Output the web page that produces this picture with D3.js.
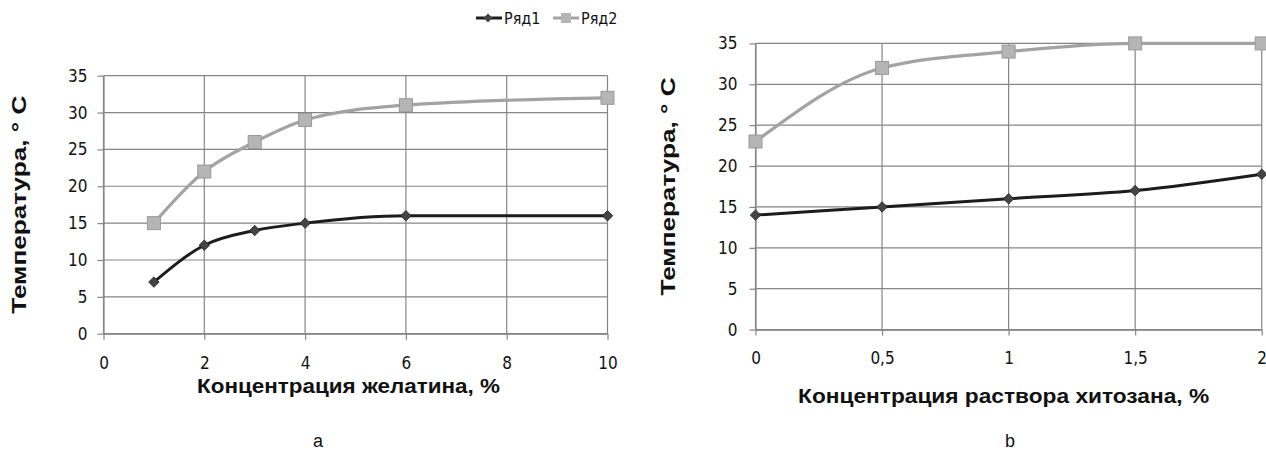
<!DOCTYPE html>
<html>
<head>
<meta charset="utf-8">
<script src="https://cdn.jsdelivr.net/npm/d3@7"></script>
<style>
  html, body { margin: 0; padding: 0; background: #fff; }
  svg { display: block; }
  .tick text { font-family: "DejaVu Sans Condensed", "DejaVu Sans", sans-serif; font-stretch: condensed; font-size: 17px; fill: #111; }
  .title { font-family: "Liberation Sans", Arial, sans-serif; font-weight: bold; font-size: 21px; fill: #111; }
  .panel { font-family: "Liberation Sans", Arial, sans-serif; font-size: 18px; fill: #111; }
  .legend text { font-family: "DejaVu Sans Condensed", "DejaVu Sans", sans-serif; font-stretch: condensed; font-size: 16px; fill: #111; }
</style>
</head>
<body>
<svg id="chart" width="1266" height="459"></svg>
<script>
"use strict";

// panel a: gelatin
var gelatinX = [1, 2, 3, 4, 6, 10];
var gelatinRow1 = [7, 12, 14, 15, 16, 16];
var gelatinRow2 = [15, 22, 26, 29, 31, 32];
var gelatinXTicks = [0, 2, 4, 6, 8, 10];

// panel b: chitosan
var chitosanX = [0, 0.5, 1, 1.5, 2];
var chitosanRow1 = [14, 15, 16, 17, 19];
var chitosanRow2 = [23, 32, 34, 35, 35];
var chitosanXTicks = [0, 0.5, 1, 1.5, 2];

var yTicks = [0, 5, 10, 15, 20, 25, 30, 35];
var seriesNames = ["Ряд1", "Ряд2"];

var ROW1_LINE = "#1c1c1c", ROW1_MARK = "#444";
var ROW2_LINE = "#a3a3a3", ROW2_MARK = "#b5b5b5";
var GRID = "#858585";

var svg = d3.select("#chart");
var fmt = function (d) { return String(d).replace(".", ","); };

function drawPanel(opts) {
  var x = d3.scaleLinear().domain(opts.xDomain).range([opts.left, opts.right]);
  var y = d3.scaleLinear().domain([0, 35]).range([opts.bottom, opts.top]);
  var g = svg.append("g");

  // grid
  g.append("g").selectAll("line.h").data(yTicks).enter().append("line")
    .attr("x1", opts.left).attr("x2", opts.right)
    .attr("y1", function (d) { return y(d); }).attr("y2", function (d) { return y(d); })
    .attr("stroke", GRID).attr("stroke-width", 1.2);
  g.append("g").selectAll("line.v").data(opts.xTicks).enter().append("line")
    .attr("x1", function (d) { return x(d); }).attr("x2", function (d) { return x(d); })
    .attr("y1", opts.top).attr("y2", opts.bottom)
    .attr("stroke", GRID).attr("stroke-width", 1.2);

  var yAxis = g.append("g").attr("transform", "translate(" + opts.left + ",0)")
    .call(d3.axisLeft(y).tickValues(yTicks).tickSizeInner(6).tickSizeOuter(0).tickPadding(opts.yPad));
  var xAxis = g.append("g").attr("transform", "translate(0," + opts.bottom + ")")
    .call(d3.axisBottom(x).tickValues(opts.xTicks).tickFormat(fmt).tickSizeInner(6).tickSizeOuter(0).tickPadding(opts.xPad));
  [yAxis, xAxis].forEach(function (a) {
    a.selectAll("path, line").attr("stroke", GRID).attr("stroke-width", 1.2);
  });

  // Excel-like smoothing without the overshoot on flat ends
  var line = d3.line()
    .x(function (d) { return x(d[0]); })
    .y(function (d) { return y(d[1]); })
    .curve(d3.curveMonotoneX);

  var row2 = opts.xs.map(function (v, i) { return [v, opts.row2[i]]; });
  var row1 = opts.xs.map(function (v, i) { return [v, opts.row1[i]]; });

  g.append("path").datum(row2).attr("d", line).attr("fill", "none")
    .attr("stroke", ROW2_LINE).attr("stroke-width", 3.2);
  g.append("path").datum(row1).attr("d", line).attr("fill", "none")
    .attr("stroke", ROW1_LINE).attr("stroke-width", 3);

  g.selectAll("rect.m2").data(row2).enter().append("rect")
    .attr("x", function (d) { return x(d[0]) - 6.5; })
    .attr("y", function (d) { return y(d[1]) - 6.5; })
    .attr("width", 13).attr("height", 13)
    .attr("fill", ROW2_MARK).attr("stroke", "#9a9a9a").attr("stroke-width", 1);
  g.selectAll("path.m1").data(row1).enter().append("path")
    .attr("d", d3.symbol().type(d3.symbolDiamond2).size(70))
    .attr("transform", function (d) { return "translate(" + x(d[0]) + "," + y(d[1]) + ")"; })
    .attr("fill", ROW1_MARK).attr("stroke", "#222").attr("stroke-width", 0.8);

  svg.append("text").attr("class", "title")
    .attr("x", (opts.left + opts.right) / 2 + opts.xTitleShift).attr("y", opts.xTitleY)
    .attr("text-anchor", "middle").attr("textLength", opts.xTitleLen).attr("lengthAdjust", "spacingAndGlyphs")
    .text(opts.xTitle);
  svg.append("text").attr("class", "title")
    .attr("transform", "translate(" + opts.yTitleX + "," + (opts.top + opts.bottom) / 2 + ") rotate(-90)")
    .attr("text-anchor", "middle").attr("textLength", 218).attr("lengthAdjust", "spacingAndGlyphs")
    .text("Температура, ° С");
  svg.append("text").attr("class", "panel")
    .attr("x", opts.panelX).attr("y", 447).attr("text-anchor", "middle")
    .text(opts.panel);
}

drawPanel({
  xs: gelatinX, row1: gelatinRow1, row2: gelatinRow2, xTicks: gelatinXTicks,
  xDomain: [0, 10], left: 103.5, right: 607.5, top: 75.7, bottom: 333.7,
  yPad: 10, xPad: 17, xTitle: "Концентрация желатина, %", xTitleY: 393, xTitleLen: 303, xTitleShift: -7,
  yTitleX: 26, panel: "а", panelX: 318
});

drawPanel({
  xs: chitosanX, row1: chitosanRow1, row2: chitosanRow2, xTicks: chitosanXTicks,
  xDomain: [0, 2], left: 755.5, right: 1261.7, top: 43.4, bottom: 329.6,
  yPad: 12, xPad: 16, xTitle: "Концентрация раствора хитозана, %", xTitleY: 403, xTitleLen: 411, xTitleShift: -5,
  yTitleX: 675, panel: "b", panelX: 1010
});

// legend (panel a)
var legend = svg.append("g").attr("class", "legend");
var legendItems = [
  { name: seriesNames[0], x0: 476, color: ROW1_LINE },
  { name: seriesNames[1], x0: 553, color: ROW2_LINE }
];
legendItems.forEach(function (it, i) {
  legend.append("line").attr("x1", it.x0).attr("x2", it.x0 + 26).attr("y1", 18).attr("y2", 18)
    .attr("stroke", it.color).attr("stroke-width", 3);
  if (i === 0) {
    legend.append("path").attr("d", d3.symbol().type(d3.symbolDiamond2).size(50))
      .attr("transform", "translate(" + (it.x0 + 12) + ",18)").attr("fill", ROW1_MARK);
  } else {
    legend.append("rect").attr("x", it.x0 + 8).attr("y", 13).attr("width", 10).attr("height", 10)
      .attr("fill", ROW2_MARK);
  }
  legend.append("text").attr("x", it.x0 + 28).attr("y", 24).text(it.name);
});
</script>
</body>
</html>
